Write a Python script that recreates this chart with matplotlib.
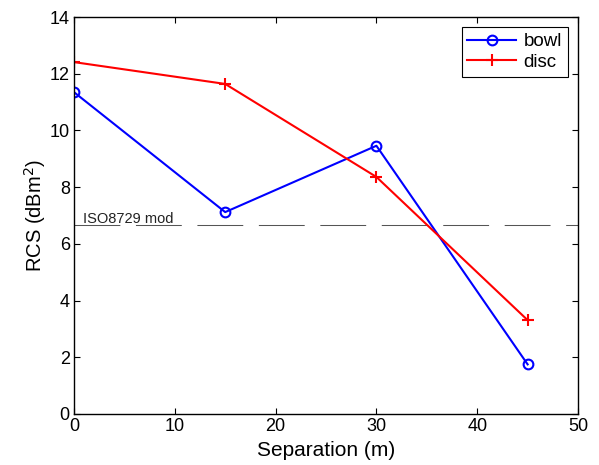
import matplotlib
matplotlib.use("Agg")
import matplotlib.pyplot as plt

plt.rcParams['font.family'] = ['Liberation Sans', 'DejaVu Sans']

separation = [0, 15, 30, 45]
bowl = [11.35, 7.12, 9.46, 1.75]
disc = [12.41, 11.64, 8.36, 3.31]
iso_level = 6.65
iso_label = "ISO8729 mod"

fig = plt.figure(figsize=(5.99, 4.65), dpi=100)
ax = fig.add_axes([0.1235, 0.1097, 0.8415, 0.8537])

ax.axhline(iso_level, color='#555555', lw=0.75, dashes=(44, 15))
ax.plot(separation, bowl, color='#0000ff', lw=1.5, marker='o', markersize=7,
        markerfacecolor='none', markeredgewidth=1.5, label='bowl')
ax.plot(separation, disc, color='#ff0000', lw=1.5, marker='+', markersize=8,
        markeredgewidth=1.5, label='disc')
ax.text(0.9, iso_level + 0.09, iso_label, fontsize=10.5, color='#222222', va='baseline')

ax.set_xlim(0, 50)
ax.set_ylim(0, 14)
ax.set_xticks(range(0, 51, 10))
ax.set_yticks(range(0, 15, 2))
ax.tick_params(direction='in', top=True, right=True, labelsize=13, length=4, width=0.8, pad=3)
for s in ax.spines.values():
    s.set_linewidth(1.0)
ax.set_xlabel('Separation (m)', fontsize=15, labelpad=4)
ax.set_ylabel('RCS (dBm$^2$)', fontsize=14.5, labelpad=1)

leg = ax.legend(loc='upper right', fontsize=13.5, fancybox=False, edgecolor='black',
                framealpha=1, borderaxespad=0.55, handlelength=2.6, borderpad=0.3,
                labelspacing=0.2, numpoints=1, handletextpad=0.4)
leg.get_frame().set_linewidth(0.8)

fig.savefig('out.png', dpi=100)
